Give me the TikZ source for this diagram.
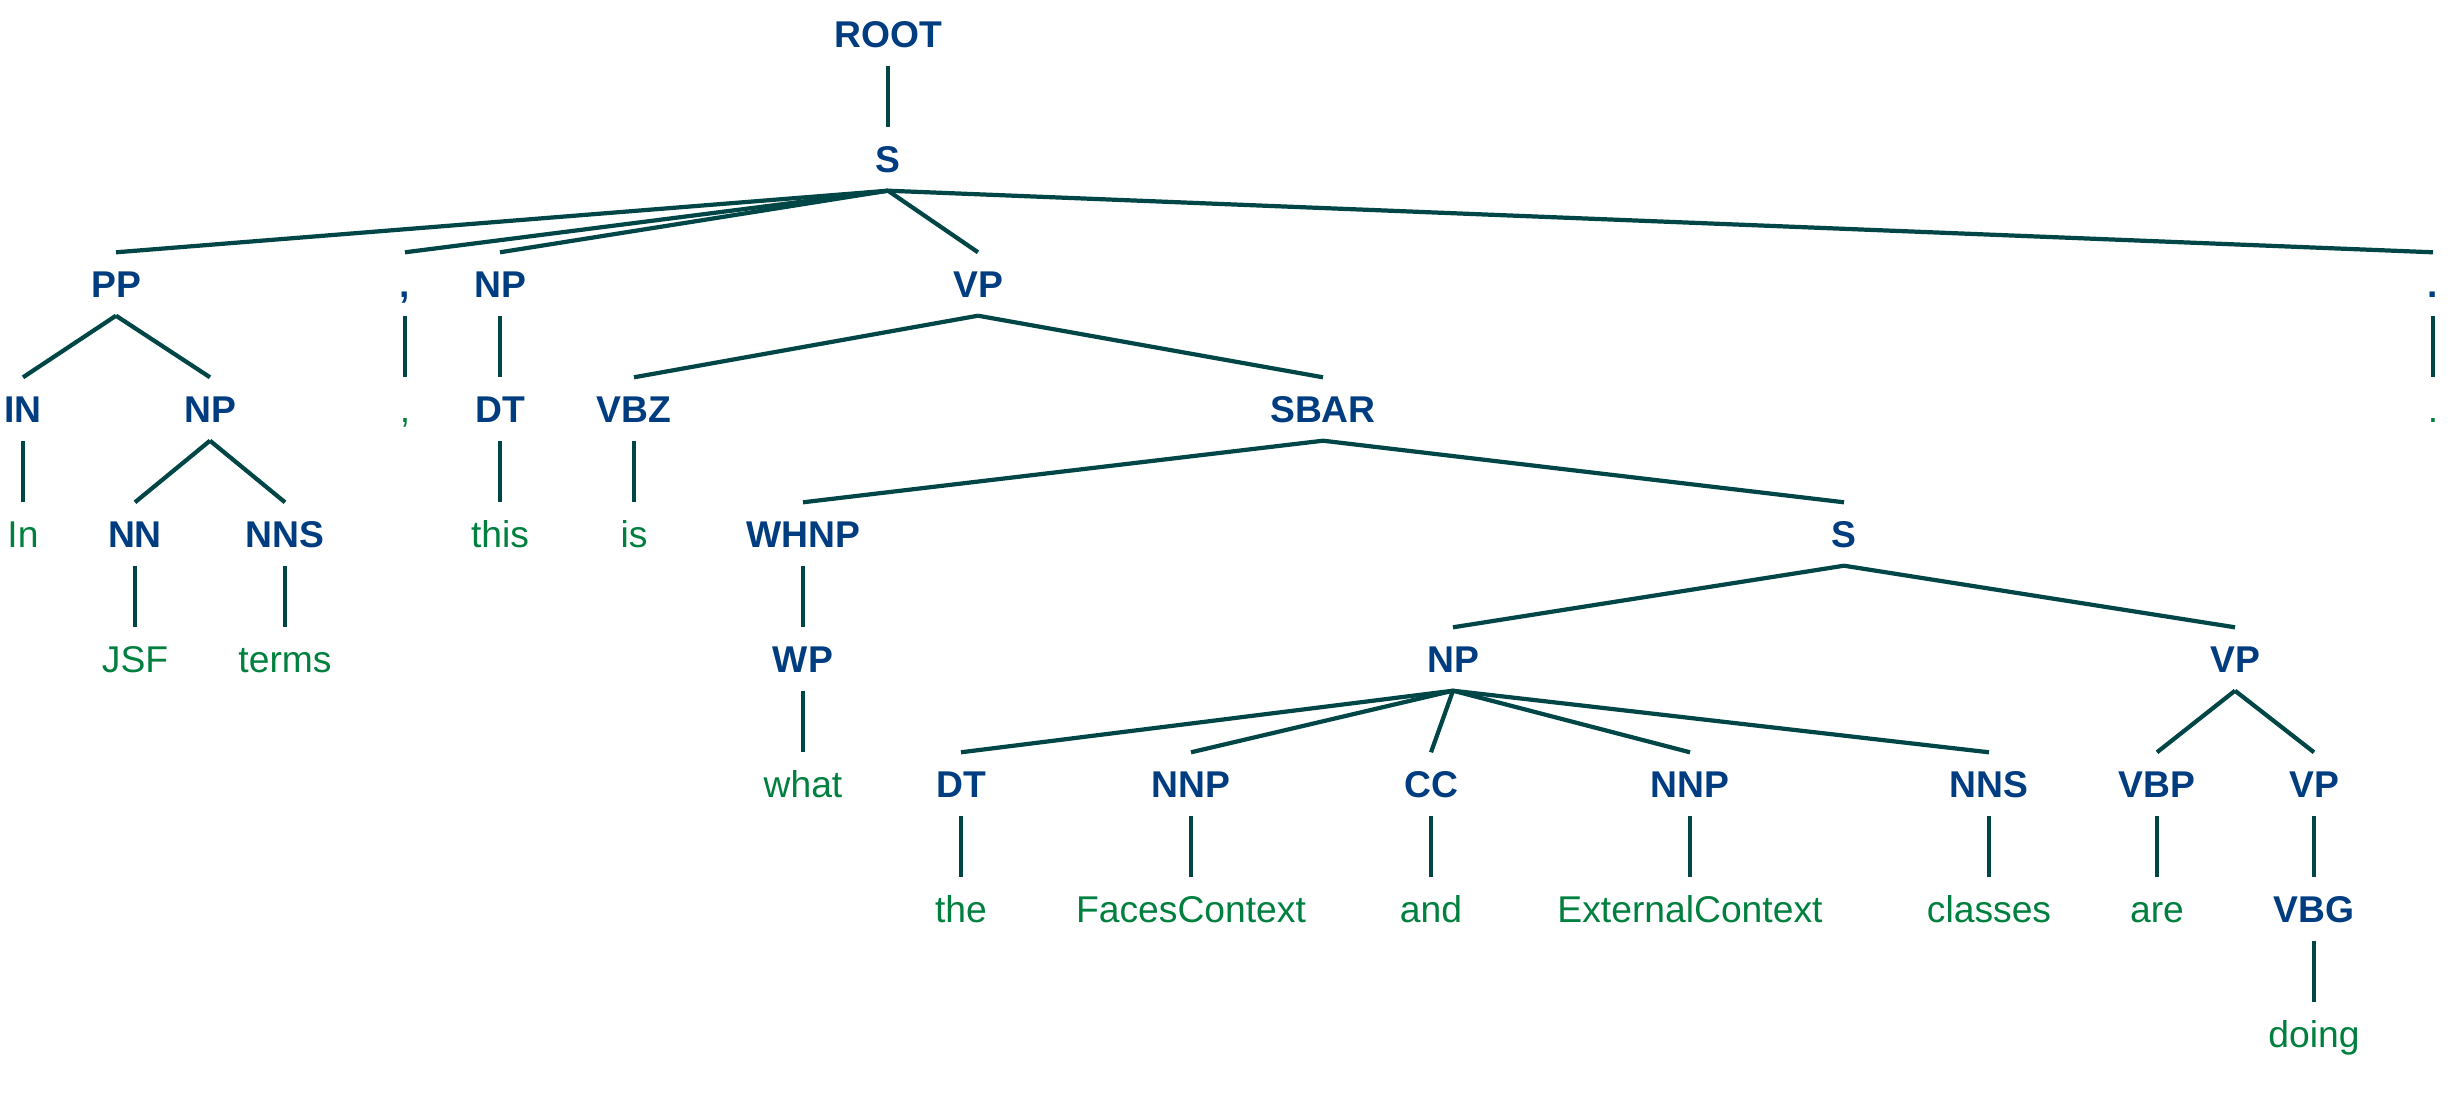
\documentclass[tikz,border=0pt]{standalone}
\usepackage{fontspec}
\setmainfont{Liberation Sans}
\usetikzlibrary{positioning}
\definecolor{labblue}{RGB}{0,61,128}
\definecolor{wordgreen}{RGB}{0,128,62}
\definecolor{edgecol}{RGB}{0,70,70}
\begin{document}
\begin{tikzpicture}[-,node distance=1.25cm,
  every node/.style={inner sep=0pt,minimum height=0.62cm,text height=7.6pt,text depth=0pt},
  lab/.style={font=\fontsize{10.6}{12}\selectfont\bfseries,text=labblue},
  word/.style={font=\fontsize{10.6}{12}\selectfont,text=wordgreen},
  every edge/.style={draw=edgecol,line width=1.2pt}]

\useasboundingbox (0,0) rectangle (24.58,-11.17);

\node[lab](root) at (8.88,-0.34){ROOT};
\node[lab](s1)[below of=root]{S};
\node[lab](pp) at (1.16,-2.84){PP};
\node[lab](comma1) at (4.05,-2.84){,};
\node[lab](np1) at (5.00,-2.84){NP};
\node[lab](vp1) at (9.78,-2.84){VP};
\node[lab](dot1) at (24.33,-2.84){.};
\node[lab](in) at (0.23,-4.09){IN};
\node[lab](np2) at (2.10,-4.09){NP};
\node[word](comma2)[below of=comma1]{,};
\node[lab](dt1)[below of=np1]{DT};
\node[lab](vbz) at (6.34,-4.09){VBZ};
\node[lab](sbar) at (13.23,-4.09){SBAR};
\node[word](dot2)[below of=dot1]{.};
\node[word](w-in)[below of=in]{In};
\node[lab](nn) at (1.35,-5.34){NN};
\node[lab](nns1) at (2.85,-5.34){NNS};
\node[word](w-this)[below of=dt1]{this};
\node[word](w-is)[below of=vbz]{is};
\node[lab](whnp) at (8.03,-5.34){WHNP};
\node[lab](s2) at (18.44,-5.34){S};
\node[word](w-jsf)[below of=nn]{JSF};
\node[word](w-terms)[below of=nns1]{terms};
\node[lab](wp)[below of=whnp]{WP};
\node[lab](np3) at (14.53,-6.59){NP};
\node[lab](vp2) at (22.35,-6.59){VP};
\node[word](w-what)[below of=wp]{what};
\node[lab](dt2) at (9.61,-7.84){DT};
\node[lab](nnp1) at (11.91,-7.84){NNP};
\node[lab](cc) at (14.31,-7.84){CC};
\node[lab](nnp2) at (16.90,-7.84){NNP};
\node[lab](nns2) at (19.89,-7.84){NNS};
\node[lab](vbp) at (21.57,-7.84){VBP};
\node[lab](vp3) at (23.14,-7.84){VP};
\node[word](w-the)[below of=dt2]{the};
\node[word](w-faces)[below of=nnp1]{FacesContext};
\node[word](w-and)[below of=cc]{and};
\node[word](w-ext)[below of=nnp2]{ExternalContext};
\node[word](w-classes)[below of=nns2]{classes};
\node[word](w-are)[below of=vbp]{are};
\node[lab](vbg)[below of=vp3]{VBG};
\node[word](w-doing)[below of=vbg]{doing};

\path(root.south)edge(s1.north)
	(s1.south)edge(pp.north)
	(s1.south)edge(comma1.north)
	(s1.south)edge(np1.north)
	(s1.south)edge(vp1.north)
	(s1.south)edge(dot1.north)
	(pp.south)edge(in.north)
	(pp.south)edge(np2.north)
	(comma1.south)edge(comma2.north)
	(np1.south)edge(dt1.north)
	(vp1.south)edge(vbz.north)
	(vp1.south)edge(sbar.north)
	(dot1.south)edge(dot2.north)
	(in.south)edge(w-in.north)
	(np2.south)edge(nn.north)
	(np2.south)edge(nns1.north)
	(dt1.south)edge(w-this.north)
	(vbz.south)edge(w-is.north)
	(sbar.south)edge(whnp.north)
	(sbar.south)edge(s2.north)
	(nn.south)edge(w-jsf.north)
	(nns1.south)edge(w-terms.north)
	(whnp.south)edge(wp.north)
	(s2.south)edge(np3.north)
	(s2.south)edge(vp2.north)
	(wp.south)edge(w-what.north)
	(np3.south)edge(dt2.north)
	(np3.south)edge(nnp1.north)
	(np3.south)edge(cc.north)
	(np3.south)edge(nnp2.north)
	(np3.south)edge(nns2.north)
	(vp2.south)edge(vbp.north)
	(vp2.south)edge(vp3.north)
	(dt2.south)edge(w-the.north)
	(nnp1.south)edge(w-faces.north)
	(cc.south)edge(w-and.north)
	(nnp2.south)edge(w-ext.north)
	(nns2.south)edge(w-classes.north)
	(vbp.south)edge(w-are.north)
	(vp3.south)edge(vbg.north)
	(vbg.south)edge(w-doing.north);

\end{tikzpicture}
\end{document}
